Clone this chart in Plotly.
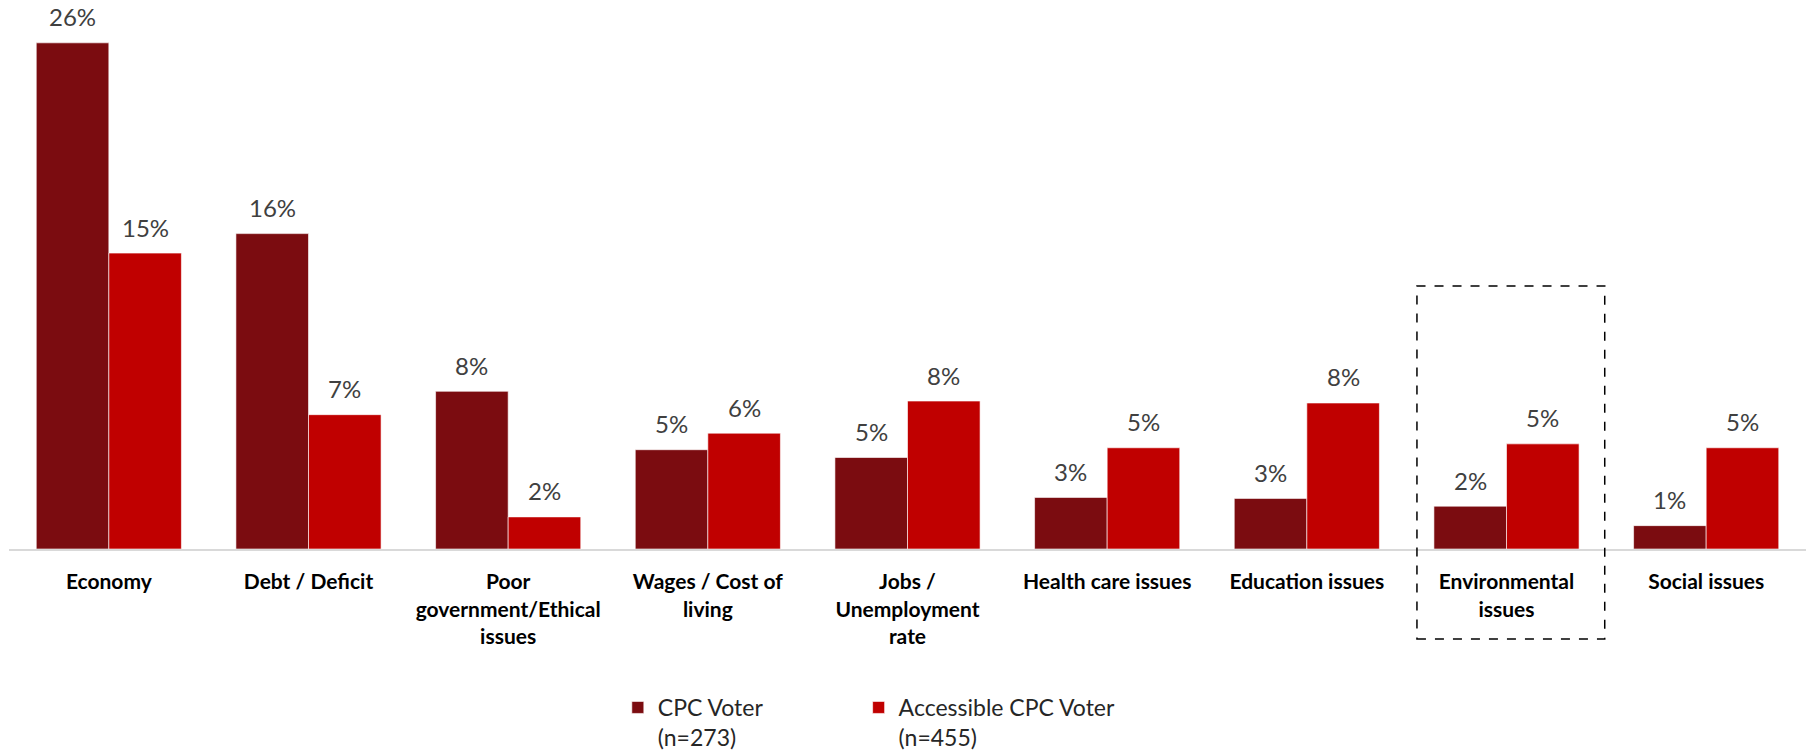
import plotly.graph_objects as go

categories = ["Economy",
              "Debt / Deficit",
              "Poor<br>government/Ethical<br>issues",
              "Wages / Cost of<br>living",
              "Jobs /<br>Unemployment<br>rate",
              "Health care issues",
              "Education issues",
              "Environmental<br>issues",
              "Social issues"]

cpc_voter = [26.0, 16.2, 8.1, 5.1, 4.7, 2.65, 2.6, 2.2, 1.2]
cpc_labels = ["26%", "16%", "8%", "5%", "5%", "3%", "3%", "2%", "1%"]

accessible_voter = [15.2, 6.9, 1.65, 5.95, 7.6, 5.2, 7.5, 5.4, 5.2]
accessible_labels = ["15%", "7%", "2%", "6%", "8%", "5%", "8%", "5%", "5%"]

FONT = "Lato"

fig = go.Figure()

fig.add_trace(go.Bar(x=categories,
                     y=cpc_voter,
                     name="CPC Voter<br>(n=273)",
                     legend="legend",
                     showlegend=True,
                     marker_color="#7B0C10",
                     marker_line=dict(color="rgba(255,255,255,0.6)", width=1)))

fig.add_trace(go.Bar(x=categories,
                     y=accessible_voter,
                     name="Accessible CPC Voter<br>(n=455)",
                     legend="legend2",
                     showlegend=True,
                     marker_color="#C00000",
                     marker_line=dict(color="rgba(255,255,255,0.6)", width=1)))

# value labels above each bar
for values, labels, shift in [(cpc_voter, cpc_labels, -36.3),
                              (accessible_voter, accessible_labels, 36.3)]:
    for cat, val, lab in zip(categories, values, labels):
        fig.add_annotation(x=cat, y=val, text=lab, showarrow=False,
                           xshift=shift, yshift=26, yanchor="middle",
                           font=dict(family=FONT, size=24, color="#404040"))

# dashed highlight around Environmental issues
fig.add_shape(type="rect", xref="paper", yref="paper",
              x0=0.7835, x1=0.888, y0=-0.164, y1=0.479,
              line=dict(color="#000000", width=1.5, dash="dash"))

legend_style = dict(orientation="h", xanchor="left", y=-0.2495, yanchor="top",
                    valign="top", bgcolor="rgba(0,0,0,0)",
                    font=dict(family=FONT, size=23, color="#262626"))

fig.update_layout(width=1806,
                  height=753,
                  showlegend=True,
                  barmode="group",
                  bargap=0.273,
                  bargroupgap=0,
                  plot_bgcolor="white",
                  paper_bgcolor="white",
                  margin=dict(l=9, r=0, t=0, b=204, autoexpand=False),
                  font=dict(family=FONT, size=22, color="#262626"),
                  legend=dict(x=0.3388, **legend_style),
                  legend2=dict(x=0.4728, **legend_style),
                  xaxis=dict(showline=True, linecolor="#D9D9D9", linewidth=2,
                             ticks="outside", ticklen=13,
                             tickcolor="rgba(0,0,0,0)",
                             tickfont=dict(family=FONT, size=21, color="#000000",
                                           weight="bold"),
                             showgrid=False),
                  yaxis=dict(range=[0, 28.2], visible=False, showgrid=False))

# drop the default body margin so the figure fills the window exactly
fig.write_html("out.html",
               config={"displayModeBar": False},
               post_script="document.body.style.margin='0';")
